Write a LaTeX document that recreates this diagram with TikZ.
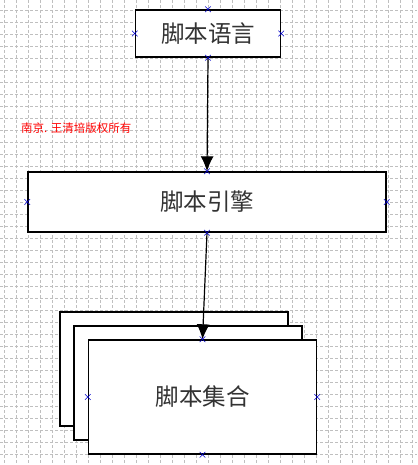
\documentclass[tikz,border=0pt]{standalone}
\usepackage{fontspec}
\newfontfamily\cjk{Noto Sans CJK SC}
\usepackage{tikz}
\usetikzlibrary{arrows.meta,positioning,shapes.misc}

\begin{document}
\begin{tikzpicture}[x=1pt,y=-1pt,>=Latex,
  box/.style={draw=black,line width=1.4pt,fill=white,inner sep=0pt,text=black!80,font=\cjk\fontsize{23.5}{24}\selectfont},
  cpt/.style={cross out,draw=blue!80!black,line width=0.6pt,minimum size=5pt,inner sep=0pt},
  arr/.style={-{Latex[length=15pt,width=13pt]},line width=1.2pt}]
% canvas and grid
\useasboundingbox (0,0) rectangle (417,465);
\fill[white] (0,0) rectangle (417,465);
\foreach \gx in {4,16,...,416} \draw[gray!50,line width=0.7pt,dash pattern=on 3pt off 2pt] (\gx,0) -- (\gx,465);
\foreach \gy in {10,22,...,464} \draw[gray!50,line width=0.7pt,dash pattern=on 3pt off 2pt] (0,\gy) -- (417,\gy);
% boxes
\node[box,minimum width=145pt,minimum height=47pt] (lang) at (208,33.5) {脚本语言};
\node[box,minimum width=358pt,minimum height=60pt] (engine) at (207,202) {脚本引擎};
\node[box,minimum width=228pt,minimum height=114pt] (set2) at (174,369) {};
\node[box,minimum width=228pt,minimum height=114pt] (set1) at (188,383) {};
\node[box,minimum width=228pt,minimum height=114pt] (set) at (202.5,397) {脚本集合};
% copyright note
\node[text=red,font=\cjk\fontsize{11.5}{12}\selectfont,anchor=west,inner sep=0pt] (note) at (21,128) {南京. 王清培版权所有};
% connectors
\draw[arr] (lang.south) -- (engine.north);
\draw[arr] (engine.south) -- (set.north);
% connection points
\foreach \n in {lang,engine,set}
  \foreach \a in {north,south,east,west}
    \node[cpt] at (\n.\a) {};
\end{tikzpicture}
\end{document}
